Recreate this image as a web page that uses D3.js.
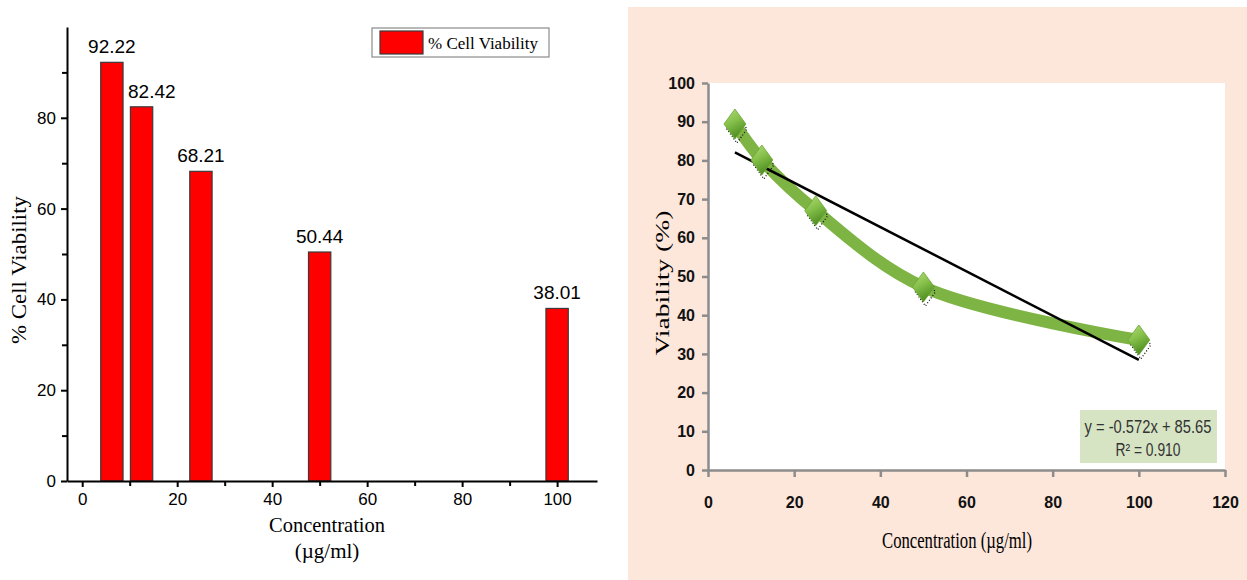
<!DOCTYPE html>
<html>
<head>
<meta charset="utf-8">
<script src="https://cdn.jsdelivr.net/npm/d3@7"></script>
<style>
  body { margin: 0; background: #fff; }
  svg { display: block; }
</style>
</head>
<body>
<svg id="chart" width="1247" height="580"></svg>
<script>
// ---- data ----
const concentrations = [6.25, 12.5, 25, 50, 100];
const cellViability = [92.22, 82.42, 68.21, 50.44, 38.01];   // left bar chart
const viabilityCurve = [89.4, 80.1, 67.0, 47.3, 33.6];       // right line chart
const fitSlope = -0.572;
const fitIntercept = 85.65;
const fitR2 = 0.910;

const barXTicks = [0, 20, 40, 60, 80, 100];
const barXMinor = [10, 30, 50, 70, 90];
const barYTicks = [0, 20, 40, 60, 80];
const barYMinor = [10, 30, 50, 70, 90];
const lineXTicks = [0, 20, 40, 60, 80, 100, 120];
const lineYTicks = [0, 10, 20, 30, 40, 50, 60, 70, 80, 90, 100];

let svg = d3.select("#chart");
let serif = "'Liberation Serif', 'Times New Roman', serif";
let sans = "'Liberation Sans', Arial, sans-serif";

//------ LEFT: bar chart ------
let left = svg.append("g").attr("id", "bar-chart");

let xBar = d3.scaleLinear().domain([-3.2, 108.4]).range([67, 597]);
let yBar = d3.scaleLinear().domain([0, 100]).range([481, 27]);
let barW = xBar(4.7) - xBar(0);

let bars = concentrations.map((c, i) => ({ c: c, v: cellViability[i] }));

left.selectAll("rect.bar")
  .data(bars)
  .join("rect")
  .attr("class", "bar")
  .attr("x", d => xBar(d.c) - barW / 2)
  .attr("y", d => yBar(d.v))
  .attr("width", barW)
  .attr("height", d => yBar(0) - yBar(d.v))
  .attr("fill", "#ff0000")
  .attr("stroke", "#3a3a3a")
  .attr("stroke-width", 1.2);

// value labels, pushed right when they would run into the taller bar before them
let labels = left.selectAll("text.val")
  .data(bars)
  .join("text")
  .attr("class", "val")
  .attr("x", d => xBar(d.c))
  .attr("y", d => yBar(d.v) - 9)
  .attr("text-anchor", "middle")
  .style("font-family", sans)
  .style("font-size", "19px")
  .text(d => d.v.toFixed(2));
labels.each(function(d, i) {
  if (i == 0) return;
  let prev = bars[i - 1];
  let w = this.getComputedTextLength();
  let prevRight = xBar(prev.c) + barW / 2;
  if (xBar(d.c) - w / 2 < prevRight + 4 && yBar(prev.v) < yBar(d.v) - 9) {
    d3.select(this).attr("x", prevRight + 5 + w / 2);
  }
});

// axes
left.append("g").attr("transform", `translate(0,${yBar(0)})`)
  .call(d3.axisBottom(xBar).tickValues(barXTicks).tickSize(6).tickSizeOuter(0).tickPadding(6));
left.append("g").attr("transform", `translate(0,${yBar(0)})`)
  .call(d3.axisBottom(xBar).tickValues(barXMinor).tickSize(5).tickFormat(""))
  .select(".domain").remove();
left.append("g").attr("transform", `translate(${xBar.range()[0]},0)`)
  .call(d3.axisLeft(yBar).tickValues(barYTicks).tickSize(6).tickSizeOuter(0).tickPadding(5));
left.append("g").attr("transform", `translate(${xBar.range()[0]},0)`)
  .call(d3.axisLeft(yBar).tickValues(barYMinor).tickSize(5).tickFormat(""))
  .select(".domain").remove();

left.selectAll(".domain, .tick line").attr("stroke", "#000").attr("stroke-width", 2);
left.selectAll(".tick text")
  .style("font-family", sans)
  .style("font-size", "17px")
  .attr("fill", "#000");

// titles
left.append("text")
  .attr("transform", "translate(26,270) rotate(-90)")
  .attr("text-anchor", "middle")
  .attr("textLength", 148).attr("lengthAdjust", "spacingAndGlyphs")
  .style("font-family", serif).style("font-size", "21px")
  .text("% Cell Viability");
left.append("text")
  .attr("x", 327).attr("y", 532)
  .attr("text-anchor", "middle")
  .attr("textLength", 116).attr("lengthAdjust", "spacingAndGlyphs")
  .style("font-family", serif).style("font-size", "21px")
  .text("Concentration");
left.append("text")
  .attr("x", 327).attr("y", 558)
  .attr("text-anchor", "middle")
  .style("font-family", serif).style("font-size", "21px")
  .text("(\u00b5g/ml)");

// legend
let legend = left.append("g").attr("id", "legend");
legend.append("rect").attr("x", 372).attr("y", 28).attr("width", 177).attr("height", 29)
  .attr("fill", "#fff").attr("stroke", "#8a8a8a").attr("stroke-width", 1.2);
legend.append("rect").attr("x", 380).attr("y", 31).attr("width", 43).attr("height", 23)
  .attr("fill", "#ff0000").attr("stroke", "#3a3a3a").attr("stroke-width", 1.2);
legend.append("text").attr("x", 428).attr("y", 49)
  .attr("textLength", 110).attr("lengthAdjust", "spacingAndGlyphs")
  .style("font-family", serif).style("font-size", "16px")
  .text("% Cell Viability");

//------ RIGHT: line chart ------
let right = svg.append("g").attr("id", "line-chart");
right.append("rect").attr("x", 628).attr("y", 7).attr("width", 619).attr("height", 573)
  .attr("fill", "#fde6da");

let xLine = d3.scaleLinear().domain([0, 120]).range([708, 1225]);
let yLine = d3.scaleLinear().domain([0, 100]).range([470, 83]);

right.append("rect")
  .attr("x", xLine(0)).attr("y", yLine(100))
  .attr("width", xLine(120) - xLine(0)).attr("height", yLine(0) - yLine(100))
  .attr("fill", "#fff");

let defs = svg.append("defs");
let grad = defs.append("linearGradient").attr("id", "diamondGrad")
  .attr("x1", "0").attr("y1", "0").attr("x2", "0.4").attr("y2", "1");
grad.append("stop").attr("offset", "0%").attr("stop-color", "#b3dc7a");
grad.append("stop").attr("offset", "50%").attr("stop-color", "#86c04a");
grad.append("stop").attr("offset", "100%").attr("stop-color", "#4f8f22");

let pts = concentrations.map((c, i) => ({ c: c, v: viabilityCurve[i] }));

// smoothed green line
let curve = d3.line()
  .x(d => xLine(d.c))
  .y(d => yLine(d.v))
  .curve(d3.curveCatmullRom.alpha(0.5));
right.append("path")
  .datum(pts)
  .attr("d", curve)
  .attr("fill", "none")
  .attr("stroke", "#7db443")
  .attr("stroke-width", 12)
  .attr("stroke-linecap", "round");

// linear trendline
let x0 = concentrations[0], x1 = concentrations[concentrations.length - 1];
right.append("line")
  .attr("x1", xLine(x0)).attr("y1", yLine(fitSlope * x0 + fitIntercept))
  .attr("x2", xLine(x1)).attr("y2", yLine(fitSlope * x1 + fitIntercept))
  .attr("stroke", "#000").attr("stroke-width", 2.5);

// diamond markers
let diamond = (cx, cy, w, h) => `M${cx},${cy - h}L${cx + w},${cy}L${cx},${cy + h}L${cx - w},${cy}Z`;
let marks = right.selectAll("g.mark").data(pts).join("g").attr("class", "mark");
marks.append("path")
  .attr("d", d => diamond(xLine(d.c) + 2, yLine(d.v) + 5, 10, 14))
  .attr("fill", "none").attr("stroke", "#111").attr("stroke-width", 1.3)
  .attr("stroke-dasharray", "1,2");
marks.append("path")
  .attr("d", d => diamond(xLine(d.c), yLine(d.v), 11, 15))
  .attr("fill", "url(#diamondGrad)")
  .attr("stroke", "#6aa532").attr("stroke-width", 0.8);

// axes
right.append("g").attr("transform", `translate(0,${yLine(0)})`)
  .call(d3.axisBottom(xLine).tickValues(lineXTicks).tickSize(7).tickSizeOuter(0).tickPadding(20));
right.append("g").attr("transform", `translate(${xLine(0)},0)`)
  .call(d3.axisLeft(yLine).tickValues(lineYTicks).tickSize(6).tickSizeOuter(0).tickPadding(7));
right.selectAll(".domain, .tick line").attr("stroke", "#8c8c8c").attr("stroke-width", 2.5);
right.selectAll(".tick text")
  .style("font-family", sans)
  .style("font-size", "16px")
  .style("font-weight", "bold")
  .attr("fill", "#111");

// titles
right.append("text")
  .attr("transform", "translate(669,283) rotate(-90)")
  .attr("text-anchor", "middle")
  .attr("textLength", 145).attr("lengthAdjust", "spacingAndGlyphs")
  .style("font-family", serif).style("font-size", "19px")
  .text("Viability (%)");
right.append("text")
  .attr("x", 957).attr("y", 548)
  .attr("text-anchor", "middle")
  .attr("textLength", 150).attr("lengthAdjust", "spacingAndGlyphs")
  .style("font-family", serif).style("font-size", "23px")
  .text("Concentration (\u00b5g/ml)");

// equation box
let eq = right.append("g").attr("id", "equation");
eq.append("rect").attr("x", 1080).attr("y", 410).attr("width", 137).attr("height", 53)
  .attr("fill", "#d6e4c4");
eq.append("text").attr("x", 1148).attr("y", 433)
  .attr("text-anchor", "middle")
  .attr("textLength", 127).attr("lengthAdjust", "spacingAndGlyphs")
  .style("font-family", sans).style("font-size", "18px").attr("fill", "#333")
  .text(`y = ${fitSlope}x + ${fitIntercept}`);
eq.append("text").attr("x", 1148).attr("y", 456)
  .attr("text-anchor", "middle")
  .attr("textLength", 65).attr("lengthAdjust", "spacingAndGlyphs")
  .style("font-family", sans).style("font-size", "18px").attr("fill", "#333")
  .text(`R\u00b2 = ${fitR2.toFixed(3)}`);
</script>
</body>
</html>
